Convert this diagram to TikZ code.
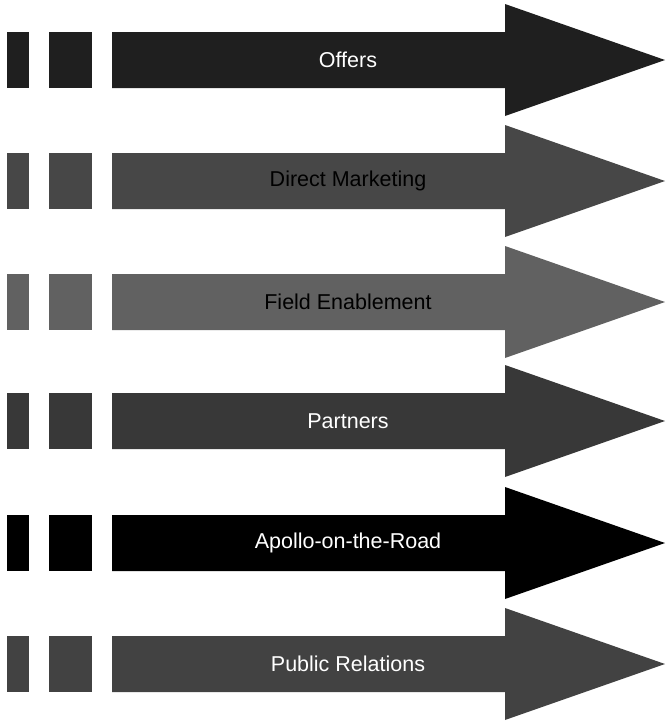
\documentclass[tikz,border=0pt]{standalone}
\usepackage{fontspec}
\setmainfont{Liberation Sans}

\tikzstyle{every node}=[font=\fontsize{21.5}{25}\selectfont]
\tikzstyle{arrowtext}=[white, inner sep=0pt]

\begin{document}
\begin{tikzpicture}[x=1pt,y=-1pt]
            \useasboundingbox (0,0) rectangle (665,721);

            % 第一行：Offers
            \begin{scope}[yshift=-60pt]
                \fill[black!88] (7,-28) rectangle (29,28);
                \fill[black!88] (49,-28) rectangle (92,28);
                \fill[black!88] (112,-28) -- (505,-28) -- (505,-56) -- (665,0) -- (505,56) -- (505,28) -- (112,28) -- cycle;
                \node[arrowtext] (offers) at (348,0) {Offers};
            \end{scope}

            % 第二行：Direct Marketing
            \begin{scope}[yshift=-181pt]
                \fill[black!72] (7,-28) rectangle (29,28);
                \fill[black!72] (49,-28) rectangle (92,28);
                \fill[black!72] (112,-28) -- (505,-28) -- (505,-56) -- (665,0) -- (505,56) -- (505,28) -- (112,28) -- cycle;
                \node[arrowtext, black] (direct) at (348,0) {Direct Marketing};
            \end{scope}

            % 第三行：Field Enablement
            \begin{scope}[yshift=-302pt]
                \fill[black!62] (7,-28) rectangle (29,28);
                \fill[black!62] (49,-28) rectangle (92,28);
                \fill[black!62] (112,-28) -- (505,-28) -- (505,-56) -- (665,0) -- (505,56) -- (505,28) -- (112,28) -- cycle;
                \node[arrowtext, black] (field) at (348,0) {Field Enablement};
            \end{scope}

            % 第四行：Partners
            \begin{scope}[yshift=-421pt]
                \fill[black!78] (7,-28) rectangle (29,28);
                \fill[black!78] (49,-28) rectangle (92,28);
                \fill[black!78] (112,-28) -- (505,-28) -- (505,-56) -- (665,0) -- (505,56) -- (505,28) -- (112,28) -- cycle;
                \node[arrowtext] (partners) at (348,0) {Partners};
            \end{scope}

            % 第五行：Apollo-on-the-Road
            \begin{scope}[yshift=-543pt]
                \fill[black] (7,-28) rectangle (29,28);
                \fill[black] (49,-28) rectangle (92,28);
                \fill[black] (112,-28) -- (505,-28) -- (505,-56) -- (665,0) -- (505,56) -- (505,28) -- (112,28) -- cycle;
                \node[arrowtext] (apollo) at (348,0) {Apollo-on-the-Road};
            \end{scope}

            % 第六行：Public Relations
            \begin{scope}[yshift=-664pt]
                \fill[black!74] (7,-28) rectangle (29,28);
                \fill[black!74] (49,-28) rectangle (92,28);
                \fill[black!74] (112,-28) -- (505,-28) -- (505,-56) -- (665,0) -- (505,56) -- (505,28) -- (112,28) -- cycle;
                \node[arrowtext] (publicrel) at (348,0) {Public Relations};
            \end{scope}
        \end{tikzpicture}
\end{document}
